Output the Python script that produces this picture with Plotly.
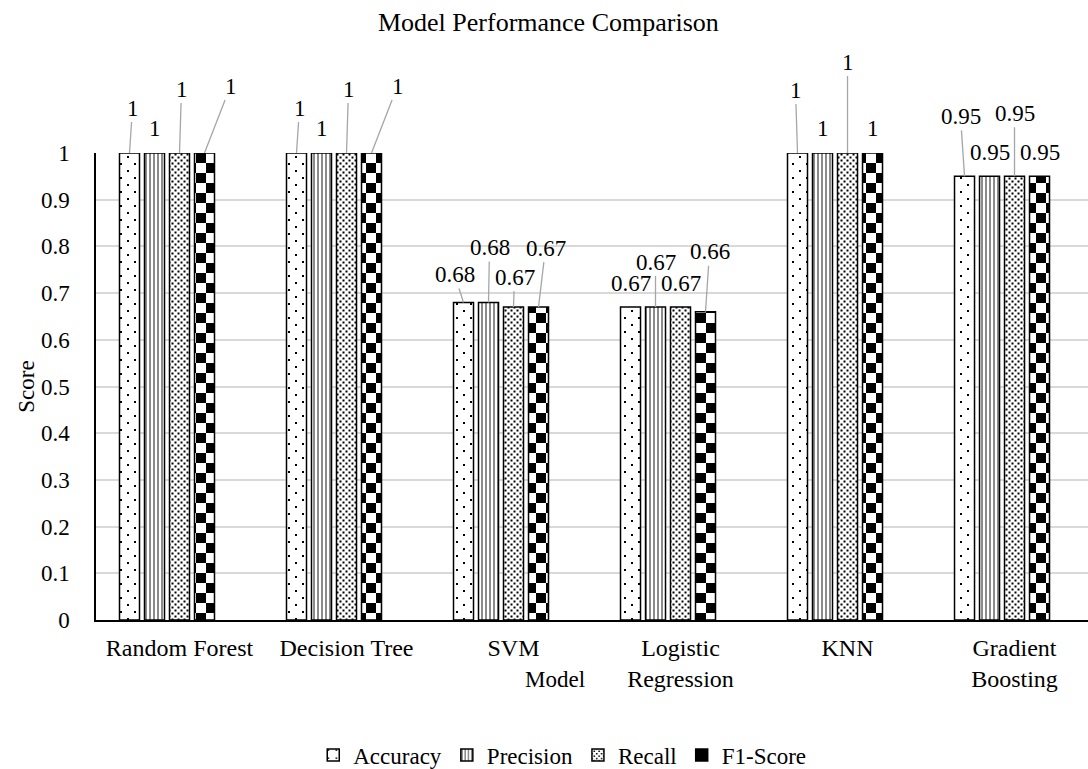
import plotly.graph_objects as go

# ---------------- data ----------------
models = ["Random Forest", "Decision Tree", "SVM", "Logistic<br>Regression", "KNN", "Gradient<br>Boosting"]
series_names = ["Accuracy", "Precision", "Recall", "F1-Score"]
accuracy = [1, 1, 0.68, 0.67, 1, 0.95]
precision = [1, 1, 0.68, 0.67, 1, 0.95]
recall = [1, 1, 0.67, 0.67, 1, 0.95]
f1_score = [1, 1, 0.67, 0.66, 1, 0.95]
spacer = [0, 0, 0, 0, 0, 0]  # empty fifth series reserving a slot in each group
y_tickvals = [0, 0.1, 0.2, 0.3, 0.4, 0.5, 0.6, 0.7, 0.8, 0.9, 1]
y_ticktext = ["0", "0.1", "0.2", "0.3", "0.4", "0.5", "0.6", "0.7", "0.8", "0.9", "1"]
label_texts = [
    ["1", "1", "0.68", "0.67", "1", "0.95"],
    ["1", "1", "0.68", "0.67", "1", "0.95"],
    ["1", "1", "0.67", "0.67", "1", "0.95"],
    ["1", "1", "0.67", "0.66", "1", "0.95"],
]

# ---------------- label placement (pixels, relative to bar top) ----------------
# (dx, dy, leader_line)
label_offsets = [
    [(3, -45, True), (3, -45, True), (-9, -28, True), (0, -24, False), (-2, -63, True), (-4, -60, True)],
    [(0, -25, False), (0, -25, False), (1, -55, True), (0, -45, True), (0, -25, False), (0, -24, False)],
    [(2, -64, True), (2, -64, True), (1, -30, True), (0, -24, False), (0, -91, True), (0, -63, True)],
    [(26, -67, True), (26, -67, True), (7, -59, True), (4, -60, True), (0, -25, False), (0, -24, False)],
]

FONT = "Liberation Serif"
BARGAP = 0.2515
BARGROUPGAP = 0.2
N_SLOTS = 5


def make_pattern(path, shape, size, solidity):
    try:
        return go.bar.marker.Pattern(path=path, size=size, fgcolor="black", bgcolor="white", fillmode="replace")
    except Exception:
        return go.bar.marker.Pattern(shape=shape, size=size, solidity=solidity, fgcolor="black", bgcolor="white")


patterns = [
    make_pattern("M3,3h2v2h-2Z M10,10h2v2h-2Z", ".", 14, 0.05),
    go.bar.marker.Pattern(shape="|", size=4, solidity=0.45, fgcolor="black", bgcolor="white"),
    make_pattern("M0.5,0.5h2v2h-2Z M3.5,3.5h2v2h-2Z", ".", 6, 0.3),
    make_pattern("M0,0H10V10H0Z M10,10H20V20H10Z", "+", 20, 0.5),
]

series_values = [accuracy, precision, recall, f1_score]

fig = go.Figure()
for name, vals, pat in zip(series_names, series_values, patterns):
    fig.add_trace(go.Bar(
        x=models, y=vals, name=name,
        marker=dict(color="white", pattern=pat, line=dict(color="black", width=1.5)),
    ))
fig.add_trace(go.Bar(
    x=models, y=spacer, name="", showlegend=False, hoverinfo="skip",
    marker=dict(color="rgba(0,0,0,0)", line=dict(width=0)),
))

# data labels
group_w = 1 - BARGAP
slot = group_w / N_SLOTS
annotations = []
for si in range(len(series_names)):
    off = -group_w / 2 + slot * (si + 0.5)
    for ci in range(len(models)):
        dx, dy, leader = label_offsets[si][ci]
        common = dict(
            x=ci + off, y=series_values[si][ci], xref="x", yref="y",
            text=label_texts[si][ci],
            font=dict(family=FONT, size=23, color="black"),
        )
        if leader:
            annotations.append(dict(
                **common, showarrow=True, ax=dx, ay=dy, arrowhead=0,
                arrowwidth=1.3, arrowcolor="#a6a6a6", standoff=0, startstandoff=0,
            ))
        else:
            annotations.append(dict(
                **common, showarrow=False, xshift=dx, yshift=-dy,
                yanchor="middle",
            ))

annotations.append(dict(
    text="Model", x=0.463, y=-0.128, xref="paper", yref="paper",
    showarrow=False, xanchor="center", yanchor="middle",
    font=dict(family=FONT, size=23, color="black"),
))

fig.update_layout(
    width=1088, height=769,
    margin=dict(l=96, r=0, t=153, b=149, autoexpand=False),
    paper_bgcolor="white", plot_bgcolor="white",
    barmode="group", bargap=BARGAP, bargroupgap=BARGROUPGAP,
    font=dict(family=FONT, size=23, color="black"),
    title=dict(
        text="Model Performance Comparison", x=0.504, xanchor="center",
        y=1 - 22 / 769, yanchor="middle", yref="container",
        font=dict(family=FONT, size=26, color="black"),
    ),
    legend=dict(
        orientation="h", x=0.47, xanchor="center", y=-0.289, yanchor="middle",
        font=dict(family=FONT, size=23, color="black"),
        itemwidth=30, tracegroupgap=0, bgcolor="rgba(0,0,0,0)",
    ),
    annotations=annotations,
    showlegend=True,
)

fig.update_xaxes(
    type="category", range=[-0.5, 5.44],
    showline=True, linecolor="black", linewidth=1.5,
    showgrid=False, ticks="", tickfont=dict(family=FONT, size=24, color="black"),
    ticklabelstandoff=5,
)
fig.update_yaxes(
    range=[0, 1], tickvals=y_tickvals, ticktext=y_ticktext,
    showline=True, linecolor="black", linewidth=1.5,
    showgrid=True, gridcolor="#d9d9d9", gridwidth=1.5, zeroline=False,
    ticks="", tickfont=dict(family=FONT, size=23, color="black"),
    ticklabelstandoff=20,
    title=dict(text="Score", font=dict(family=FONT, size=23, color="black"), standoff=0),
)

fig.write_html("out.html")
